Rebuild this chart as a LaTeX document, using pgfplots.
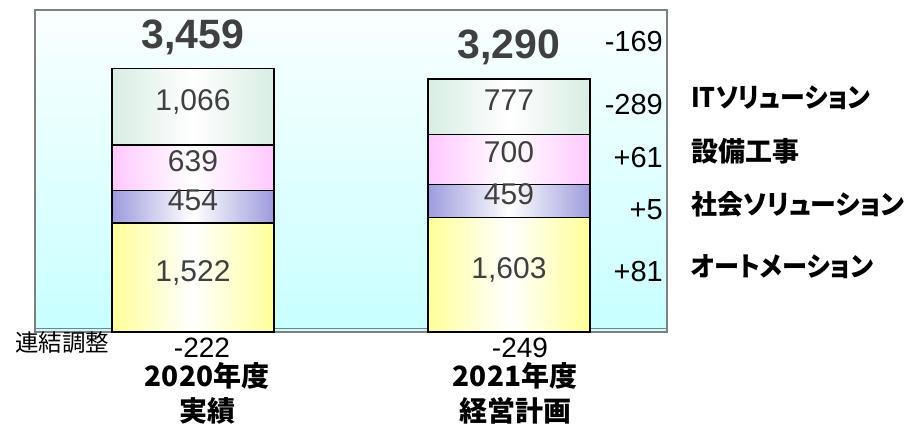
\documentclass[border=0pt]{standalone}
\usepackage{pgfplots}
\pgfplotsset{compat=1.18}
\usepackage{fontspec}
\setmainfont{Liberation Sans}
\newfontfamily\jp{Noto Sans CJK JP}
\newfontfamily\jpp{Noto Sans CJK JP}[RawFeature=+palt]
\definecolor{txtgray}{HTML}{404040}
\definecolor{boxgray}{HTML}{808080}
\definecolor{yelE}{HTML}{FFFF99}
\definecolor{bluE}{HTML}{9C9CDE}
\definecolor{pinkE}{HTML}{FFC8FF}
\definecolor{tealE}{HTML}{D8EDE3}
\definecolor{bgtop}{HTML}{FAFFFF}
\definecolor{bgbot}{HTML}{C8FFFF}
\tikzset{seglab/.style={font=\fontsize{30}{30}\selectfont, text=txtgray, text height=0.716em, text depth=0pt, inner sep=0pt}}
\pgfplotsset{
  myax/.style={
    anchor=south west,
    scale only axis, height=322pt,
    ymin=0, ymax=4500,
    xtick=\empty, ytick=\empty,
    ybar stacked, bar width=0.514,
    clip=false,
  },
  seg/.style={draw=black, line width=1.5pt, left color=#1, right color=#1, middle color=white},
}
\begin{document}
\begin{tikzpicture}[x=1pt,y=1pt]
\path[use as bounding box] (0,0) rectangle (909,431);
% frame and background
\begin{axis}[myax, at={(35pt,99pt)}, width=632pt, xmin=-0.5, xmax=1.5,
  axis line style={boxgray, line width=1.3pt},
  axis background/.style={top color=bgtop, bottom color=bgbot},
]
\addplot[boxgray, line width=1pt, sharp plot] coordinates {(-0.5,42) (1.5,42)};
\end{axis}
% first bar (axis centred on the bar)
\begin{axis}[myax, hide axis, at={(35pt,99pt)}, width=316pt, xmin=-0.5, xmax=0.5]
\addplot[seg=yelE] coordinates {(0,1522)};
\addplot[seg=bluE] coordinates {(0,454)};
\addplot[seg=pinkE] coordinates {(0,639)};
\addplot[seg=tealE] coordinates {(0,1066)};
\coordinate (a1) at (axis cs:0,761);
\coordinate (a2) at (axis cs:0,1749);
\coordinate (a3) at (axis cs:0,2295.5);
\coordinate (a4) at (axis cs:0,3148);
\coordinate (t1) at (axis cs:0,3966);
\end{axis}
% second bar
\begin{axis}[myax, hide axis, at={(351pt,99pt)}, width=316pt, xmin=0.5, xmax=1.5]
\addplot[seg=yelE] coordinates {(1,1603)};
\addplot[seg=bluE] coordinates {(1,459)};
\addplot[seg=pinkE] coordinates {(1,700)};
\addplot[seg=tealE] coordinates {(1,777)};
\coordinate (b1) at (axis cs:1,801.5);
\coordinate (b2) at (axis cs:1,1832.5);
\coordinate (b3) at (axis cs:1,2412);
\coordinate (b4) at (axis cs:1,3150.5);
\coordinate (t2) at (axis cs:1,3827);
\end{axis}
\node[seglab] at (a1) {1,522};
\node[seglab] at (a2) {454};
\node[seglab] at (a3) {639};
\node[seglab] at (a4) {1,066};
\node[seglab] at (b1) {1,603};
\node[seglab] at (b2) {459};
\node[seglab] at (b3) {700};
\node[seglab] at (b4) {777};
\node[anchor=base, inner sep=0pt, text=txtgray, font=\fontsize{41}{41}\selectfont\bfseries] at (t1) {3,459};
\node[anchor=base, inner sep=0pt, text=txtgray, font=\fontsize{41}{41}\selectfont\bfseries] at (t2) {3,290};
% change figures
\begin{scope}[every node/.style={anchor=base east, inner sep=0pt, font=\fontsize{29}{29}\selectfont}]
\node at (663,379) {-169};
\node at (663,316) {-289};
\node at (663,263) {+61};
\node at (663,211) {+5};
\node at (663,149) {+81};
\end{scope}
% segment names
\begin{scope}[every node/.style={anchor=west, inner sep=0pt, text height=0.8em, text depth=0.05em, font=\jpp\bfseries\fontsize{27}{27}\selectfont}]
\node at (691,327) {\scalebox{0.92}[1]{ITソリューション}};
\node at (691,273) {設備工事};
\node at (691,220) {\scalebox{0.96}[1]{社会ソリューション}};
\node at (691,158) {\scalebox{0.93}[1]{オートメーション}};
\end{scope}
% bottom
\node[anchor=west, inner sep=0pt, text height=0.8em, text depth=0.05em, font=\jp\fontsize{23.5}{23.5}\selectfont] at (15,83) {連結調整};
\node[anchor=base, inner sep=0pt, font=\fontsize{28}{28}\selectfont] at (202,74) {-222};
\node[anchor=base, inner sep=0pt, font=\fontsize{28}{28}\selectfont] at (520,74) {-249};
\begin{scope}[every node/.style={anchor=center, inner sep=0pt, text height=0.8em, text depth=0.05em, font=\jp\bfseries\fontsize{28}{28}\selectfont}]
\node at (207,48) {2020年度};
\node at (207,13) {実績};
\node at (515,48) {2021年度};
\node at (515,13) {経営計画};
\end{scope}
\end{tikzpicture}
\end{document}
